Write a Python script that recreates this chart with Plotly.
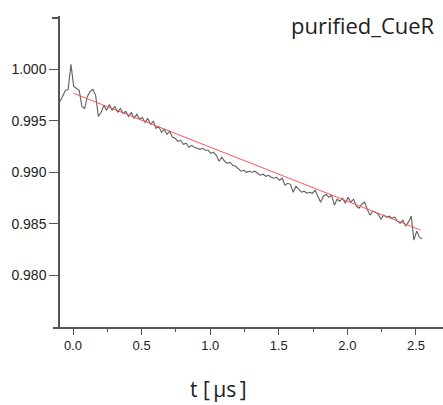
import plotly.graph_objects as go

# time axis (µs)
t_start = -0.095
t_step = 0.02
signal = [
    0.99689, 0.99738, 0.99796, 0.99806, 1.00049, 0.99835, 0.99816, 0.99796, 0.99641, 0.99621,
    0.99738, 0.99786, 0.99806, 0.99748, 0.99544, 0.99583, 0.99650, 0.99602, 0.99660, 0.99602,
    0.99641, 0.99583, 0.99621, 0.99573, 0.99592, 0.99544, 0.99583, 0.99524, 0.99563, 0.99515,
    0.99534, 0.99485, 0.99524, 0.99466, 0.99495, 0.99427, 0.99447, 0.99388, 0.99417, 0.99369,
    0.99398, 0.99340, 0.99330, 0.99301, 0.99311, 0.99272, 0.99282, 0.99243, 0.99262, 0.99243,
    0.99233, 0.99223, 0.99233, 0.99214, 0.99214, 0.99184, 0.99194, 0.99165, 0.99107, 0.99146,
    0.99107, 0.99087, 0.99097, 0.99068, 0.99058, 0.99029, 0.99010, 0.99019, 0.99000, 0.99010,
    0.99000, 0.99010, 0.98990, 0.98971, 0.98981, 0.98961, 0.98971, 0.98951, 0.98942, 0.98951,
    0.98922, 0.98942, 0.98874, 0.98893, 0.98883, 0.98806, 0.98864, 0.98835, 0.98806, 0.98816,
    0.98796, 0.98806, 0.98796, 0.98825, 0.98767, 0.98709, 0.98767, 0.98786, 0.98757, 0.98777,
    0.98680, 0.98738, 0.98718, 0.98748, 0.98699, 0.98757, 0.98709, 0.98738, 0.98670, 0.98650,
    0.98689, 0.98709, 0.98641, 0.98583, 0.98621, 0.98612, 0.98592, 0.98544, 0.98583, 0.98563,
    0.98573, 0.98553, 0.98563, 0.98524, 0.98505, 0.98534, 0.98476, 0.98515, 0.98573, 0.98340,
    0.98427, 0.98369, 0.98350,
]
time = [round(t_start + i * t_step, 4) for i in range(len(signal))]

fit_t = [0.0, 2.535]
fit_v = [0.99770, 0.98437]

x_ticks = [0.0, 0.5, 1.0, 1.5, 2.0, 2.5]
x_ticklabels = ["0.0", "0.5", "1.0", "1.5", "2.0", "2.5"]
x_minor_ticks = [0.25, 0.75, 1.25, 1.75, 2.25]
y_ticks = [0.980, 0.985, 0.990, 0.995, 1.000]
y_ticklabels = ["0.980", "0.985", "0.990", "0.995", "1.000"]
y_minor_ticks = [1.005]

title_text = "purified_CueR"
xlabel = "t [\u2009µs\u2009]"

fig = go.Figure()
fig.add_trace(go.Scatter(x=time, y=signal, mode="lines",
                         line=dict(color="#606060", width=1.1), showlegend=False))
fig.add_trace(go.Scatter(x=fit_t, y=fit_v, mode="lines",
                         line=dict(color="rgb(255,85,85)", width=1), showlegend=False))

W, H = 443, 405
L, R, T, B = 53, 0, 16, 78
pw = W - L - R
ph = H - T - B

axis_col = "#555555"
tick_font = dict(family="Arial, Liberation Sans, sans-serif", size=13, color="#222222")

fig.update_layout(
    width=W, height=H,
    margin=dict(l=L, r=R, t=T, b=B),
    paper_bgcolor="white", plot_bgcolor="white",
    xaxis=dict(
        range=[-0.1458, 2.697], domain=[0, 1],
        showgrid=False, zeroline=False,
        showline=True, linecolor=axis_col, linewidth=1.5,
        ticks="outside", ticklen=6, tickwidth=1.2, tickcolor=axis_col,
        tickvals=x_ticks, ticktext=x_ticklabels, tickfont=tick_font,
        minor=dict(tickvals=x_minor_ticks, ticks="outside",
                   ticklen=3, tickwidth=1.2, tickcolor=axis_col),
    ),
    yaxis=dict(
        range=[0.97495, 1.0052],
        anchor="free", position=6 / pw,
        showgrid=False, zeroline=False,
        showline=True, linecolor=axis_col, linewidth=1.5,
        ticks="outside", ticklen=9, tickwidth=1.2, tickcolor=axis_col,
        tickvals=y_ticks, ticktext=y_ticklabels,
        tickfont=dict(family="Arial, Liberation Sans, sans-serif", size=14, color="#222222"),
        minor=dict(tickvals=y_minor_ticks, ticks="outside",
                   ticklen=6, tickwidth=1.5, tickcolor=axis_col),
    ),
    annotations=[
        dict(text=title_text, xref="paper", yref="paper",
             x=(437 - L) / pw, y=(H - B - 25) / ph, xanchor="right", yanchor="middle",
             showarrow=False, font=dict(family="Open Sans, sans-serif", size=22, color="#222222")),
        dict(text=xlabel, xref="paper", yref="paper",
             x=(218 - L) / pw, y=(H - B - 389) / ph, xanchor="center", yanchor="middle",
             borderpad=0,
             showarrow=False, font=dict(family="Open Sans, sans-serif", size=21, color="#222222")),
    ],
)

fig.write_html("out.html", config={"displayModeBar": False},
               post_script="document.body.style.margin='0';document.body.style.overflow='hidden';")
